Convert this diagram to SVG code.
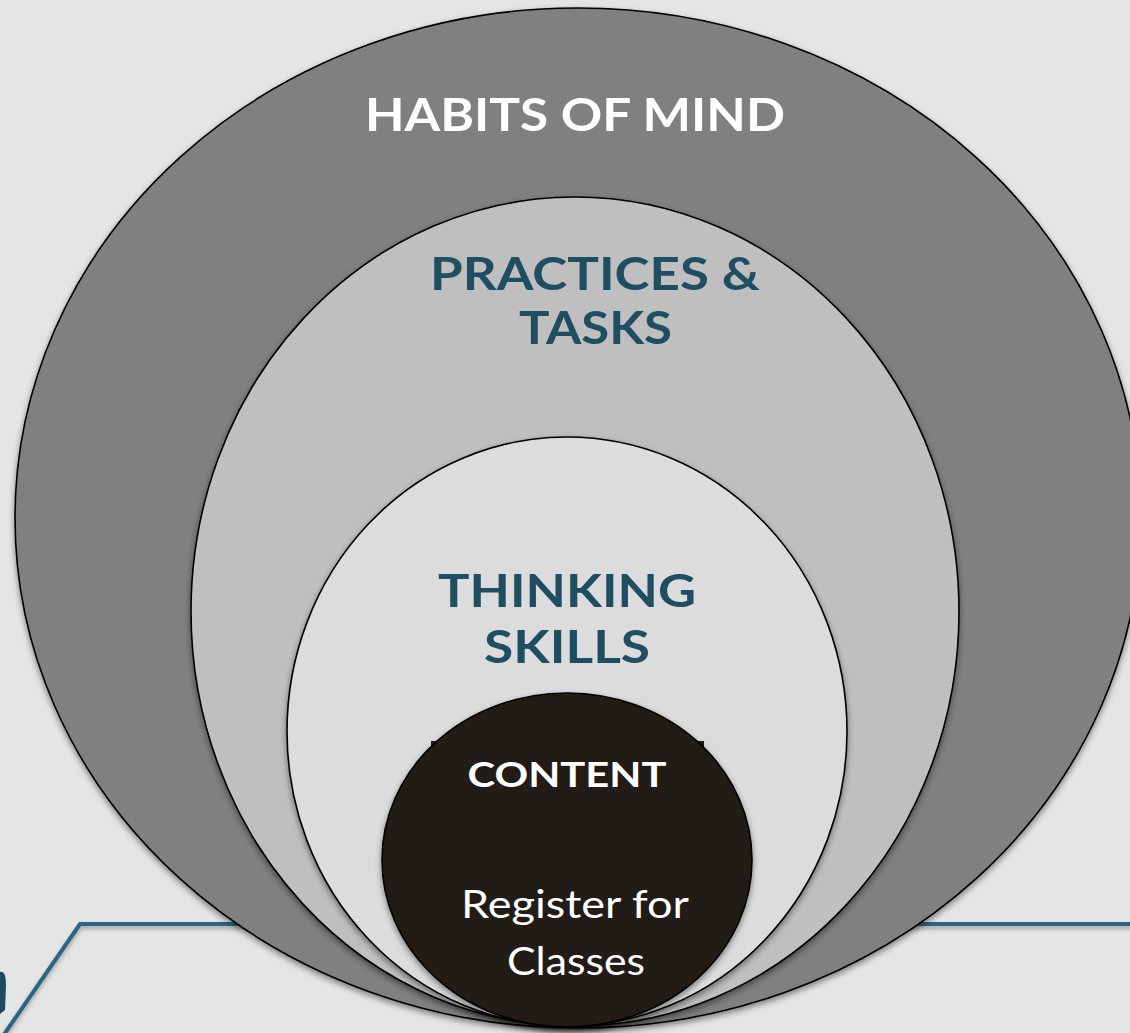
<svg xmlns="http://www.w3.org/2000/svg" width="1130" height="1033" viewBox="0 0 1130 1033">
  <defs>
    <style>
      .ring { stroke: #000; stroke-width: 1.6; filter: url(#shadow); }
      .bold { font-family: Lato, "Open Sans", "Liberation Sans", sans-serif; font-weight: 700; text-anchor: middle; }
      .reg { font-family: Lato, "Open Sans", "Liberation Sans", sans-serif; font-weight: 400; text-anchor: middle; fill: #ffffff; }
      .teal { fill: #1f4d62; }
      .white { fill: #ffffff; }
      .blue { fill: none; stroke: #2a6585; stroke-width: 4; stroke-linejoin: miter; filter: url(#lshadow); }
    </style>
    <filter id="shadow" x="-10%" y="-10%" width="120%" height="125%">
      <feDropShadow dx="0" dy="3" stdDeviation="3" flood-color="#000" flood-opacity="0.45"/>
    </filter>
    <filter id="lshadow" filterUnits="userSpaceOnUse" x="0" y="880" width="1130" height="153">
      <feDropShadow dx="0" dy="3" stdDeviation="2" flood-color="#000" flood-opacity="0.3"/>
    </filter>
  </defs>

  <rect width="1130" height="1033" fill="#e5e5e5"/>

  <g id="connectors">
    <polyline class="blue" points="3,1036 80,924 300,924"/>
    <line class="blue" x1="880" y1="924" x2="1132" y2="924"/>
    <path d="M0,972 Q6,970 6,985 L5,1010 L0,1014 Z" fill="#1e4a5e"/>
  </g>

  <g id="habits-of-mind">
    <ellipse class="ring" cx="578" cy="518" rx="563" ry="510" fill="#808080"/>
    <text class="bold white" x="575" y="131" font-size="45" textLength="420" lengthAdjust="spacingAndGlyphs">HABITS OF MIND</text>
  </g>

  <g id="practices-tasks">
    <ellipse class="ring" cx="575" cy="611.5" rx="384" ry="414.5" fill="#bfbfbf"/>
    <text class="bold teal" x="595" y="290" font-size="46" textLength="330" lengthAdjust="spacingAndGlyphs">PRACTICES &amp;</text>
    <text class="bold teal" x="595.5" y="344" font-size="46" textLength="153" lengthAdjust="spacingAndGlyphs">TASKS</text>
  </g>

  <g id="thinking-skills">
    <ellipse class="ring" cx="567" cy="731.5" rx="280" ry="294.5" fill="#dcdcdc"/>
    <text class="bold teal" x="567" y="607" font-size="46" textLength="258" lengthAdjust="spacingAndGlyphs">THINKING</text>
    <text class="bold teal" x="567" y="663" font-size="46" textLength="166" lengthAdjust="spacingAndGlyphs">SKILLS</text>
  </g>

  <g id="content">
    <rect x="431" y="741" width="273" height="40" fill="#201e14"/>
    <ellipse class="ring" cx="567" cy="860" rx="185" ry="167" fill="#201e14"/>
    <text class="bold white" x="567" y="787" font-size="34" textLength="199" lengthAdjust="spacingAndGlyphs">CONTENT</text>
    <text class="reg" x="575" y="918" font-size="38" textLength="228" lengthAdjust="spacingAndGlyphs">Register for</text>
    <text class="reg" x="576" y="975" font-size="38" textLength="138" lengthAdjust="spacingAndGlyphs">Classes</text>
  </g>
</svg>
